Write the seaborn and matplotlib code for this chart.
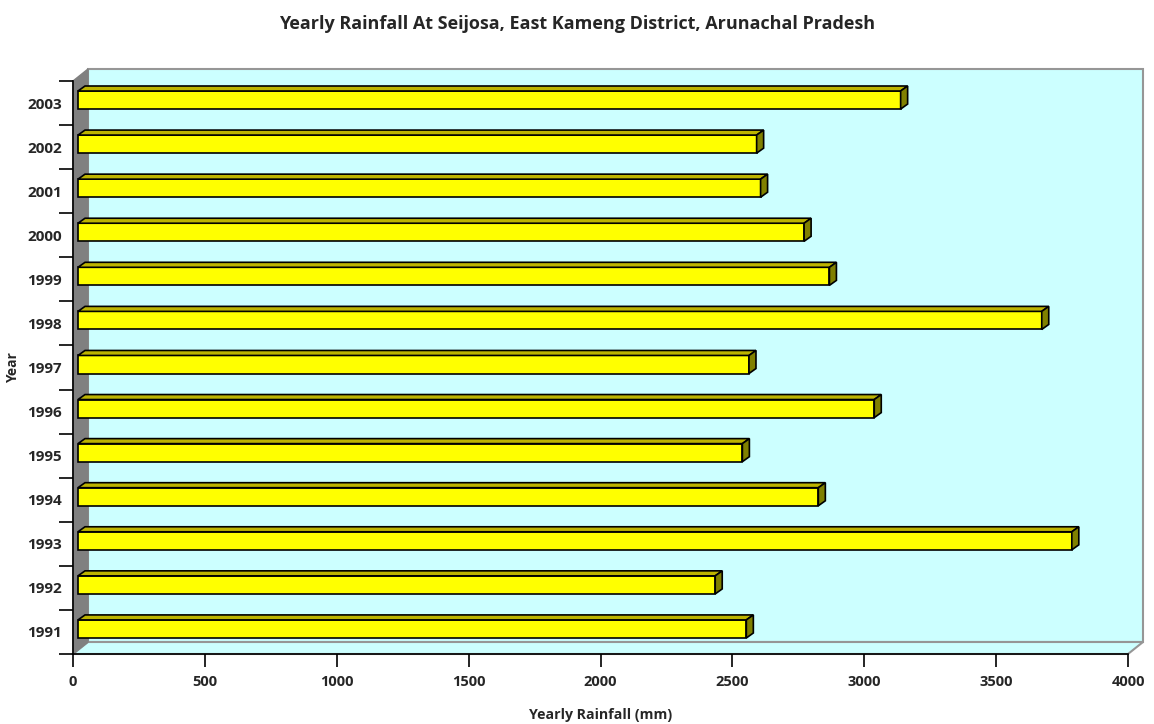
import matplotlib
matplotlib.use("Agg")
import matplotlib.pyplot as plt
from matplotlib.patches import Polygon, Rectangle
from matplotlib.ticker import FixedLocator
import pandas as pd
import seaborn as sns

# ---------------------------------------------------------------------------
# Data
# ---------------------------------------------------------------------------
years = ["1991", "1992", "1993", "1994", "1995", "1996", "1997",
         "1998", "1999", "2000", "2001", "2002", "2003"]
rainfall_mm = [2534, 2416, 3768, 2807, 2519, 3019, 2544,
               3654, 2849, 2753, 2588, 2573, 3119]
x_ticks = [0, 500, 1000, 1500, 2000, 2500, 3000, 3500, 4000]

title = "Yearly Rainfall At Seijosa, East Kameng District, Arunachal Pradesh"

df = pd.DataFrame({"year": years, "rainfall": rainfall_mm})
order = years[::-1]  # 2003 at the top

sns.set_theme(style="white")
plt.rcParams["font.family"] = ["Open Sans", "DejaVu Sans"]

W, H = 1154, 724
fig = plt.figure(figsize=(W / 100, H / 100), dpi=100)
# front plane of the 3-D plot area (pixels): x 73..1128, y 81..654
left, right, top, bottom = 73, 1128, 81, 654
ax = fig.add_axes([left / W, 1 - bottom / H, (right - left) / W, (bottom - top) / H])

XMAX = 4000
n = len(years)
ax.set_xlim(0, XMAX)
ax.set_ylim(n - 0.5, -0.5)

# pixel -> data unit helpers
ux = XMAX / (right - left)
uy = n / (bottom - top)

# depth of the 3-D box, in pixels
DEPTH_X, DEPTH_Y = 15, 12
wall_grey = "#808080"
cyan = "#CCFFFF"
edge_grey = "#969696"

# back wall
ax.add_patch(Rectangle((DEPTH_X * ux, -0.5 - DEPTH_Y * uy), XMAX, n,
                       facecolor=cyan, edgecolor=edge_grey, lw=1.5,
                       clip_on=False, zorder=0))
# side wall
ax.add_patch(Polygon([(0, -0.5), (DEPTH_X * ux, -0.5 - DEPTH_Y * uy),
                      (DEPTH_X * ux, n - 0.5 - DEPTH_Y * uy), (0, n - 0.5)],
                     closed=True, facecolor=wall_grey, edgecolor=wall_grey,
                     lw=1, clip_on=False, zorder=0.5))
# floor
ax.add_patch(Polygon([(0, n - 0.5), (DEPTH_X * ux, n - 0.5 - DEPTH_Y * uy),
                      (XMAX + DEPTH_X * ux, n - 0.5 - DEPTH_Y * uy), (XMAX, n - 0.5)],
                     closed=True, facecolor=cyan, edgecolor=edge_grey,
                     lw=1.5, clip_on=False, zorder=0.4))

# bars (front face)
sns.barplot(data=df, x="rainfall", y="year", order=order, orient="h",
            color="#FFFF00", saturation=1, width=0.41,
            edgecolor="black", linewidth=1.2, ax=ax, zorder=3)

# shift bars slightly into depth and add top / side faces
BX, BY = 5, 3     # front face offset into depth (px)
FX, FY = 7, 5     # bar depth (px)
for bar in ax.patches:
    if not isinstance(bar, Rectangle) or bar.get_facecolor()[:3] != (1.0, 1.0, 0.0):
        continue
    x0 = bar.get_x() + BX * ux
    w = bar.get_width()
    y0 = bar.get_y() - BY * uy
    h = bar.get_height()
    bar.set_x(x0)
    bar.set_y(y0)
    x1 = x0 + w
    ytop = y0           # smaller y = higher on screen (inverted axis)
    ybot = y0 + h
    dx, dy = FX * ux, FY * uy
    ax.add_patch(Polygon([(x0, ytop), (x1, ytop), (x1 + dx, ytop - dy), (x0 + dx, ytop - dy)],
                         closed=True, facecolor="#BDB400", edgecolor="black",
                         lw=1.2, zorder=3, clip_on=False))
    ax.add_patch(Polygon([(x1, ytop), (x1 + dx, ytop - dy), (x1 + dx, ybot - dy), (x1, ybot)],
                         closed=True, facecolor="#808000", edgecolor="black",
                         lw=1.2, zorder=3, clip_on=False))

# axes lines and ticks
for side in ("top", "right"):
    ax.spines[side].set_visible(False)
for side in ("left", "bottom"):
    ax.spines[side].set_color("black")
    ax.spines[side].set_linewidth(1.2)
    ax.spines[side].set_zorder(5)

ax.set_xticks(x_ticks)
ax.set_xticklabels([str(t) for t in x_ticks], fontweight="bold", fontsize=10.5)
ax.tick_params(axis="x", direction="out", length=9, width=1.2, color="black", pad=6,
               bottom=True)
ax.yaxis.set_minor_locator(FixedLocator([i - 0.5 for i in range(n + 1)]))
ax.tick_params(axis="y", which="minor", direction="out", length=10, width=1.2,
               color="black", left=True)
ax.tick_params(axis="y", which="major", length=0, pad=8, left=False)
for lab in ax.get_yticklabels():
    lab.set_fontweight("bold")
    lab.set_fontsize(11)

ax.set_xlabel("Yearly Rainfall (mm)", fontweight="bold", fontsize=10.2, labelpad=14)
ax.set_ylabel("Year", fontweight="bold", fontsize=10, labelpad=5)
ax.grid(False)
ax.set_facecolor("none")

fig.text(0.5, 1 - 24 / H, title, ha="center", va="center",
         fontweight="bold", fontsize=13)

fig.savefig("out.png", dpi=100, facecolor="white")
